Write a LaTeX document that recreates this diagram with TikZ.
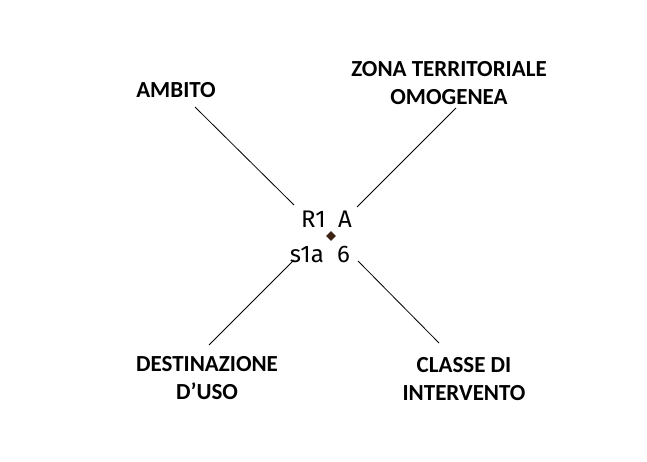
\documentclass[tikz,border=0pt]{standalone}
\usepackage{fontspec}
\setmainfont{Carlito}
\newfontfamily\codefont{Fira Sans}
\usetikzlibrary{shapes.geometric}
\definecolor{dotbrown}{HTML}{3D2314}
\begin{document}
\begin{tikzpicture}[x=1pt,y=-1pt,
  lbl/.style={font=\fontsize{23}{28}\selectfont\bfseries, align=center, inner sep=0pt},
  code/.style={font=\fontsize{24}{28}\selectfont\codefont, inner sep=0pt, text=black},
  link/.style={line width=0.8pt, black}]
\useasboundingbox (0,0) rectangle (647,462);
% labels
\node[lbl] (ambito) at (176,90) {AMBITO};
\node[lbl] (zona) at (449,83.5) {ZONA TERRITORIALE\\OMOGENEA};
\node[lbl] (dest) at (207,378) {DESTINAZIONE\\D’USO};
\node[lbl] (classe) at (464,379) {CLASSE DI\\INTERVENTO};
% centre code
\node[code, anchor=base east] (r1) at (326,228) {R1};
\node[code, anchor=base west] (a) at (338,228) {A};
\node[code, anchor=base east] (s1a) at (324,262) {s1a};
\node[code, anchor=base west] (six) at (337,262) {6};
\node[diamond, fill=dotbrown, minimum size=10pt, inner sep=0pt] (dot) at (331,236) {};
% connector ends
\coordinate (p1a) at (195,107); \coordinate (p1b) at (294,205);
\coordinate (p2a) at (456,108); \coordinate (p2b) at (357,207);
\coordinate (p3a) at (294,260); \coordinate (p3b) at (209,345);
\coordinate (p4a) at (358,261); \coordinate (p4b) at (439,343);
\draw[link] (p1a) -- (p1b);
\draw[link] (p2a) -- (p2b);
\draw[link] (p3a) -- (p3b);
\draw[link] (p4a) -- (p4b);
\end{tikzpicture}
\end{document}
